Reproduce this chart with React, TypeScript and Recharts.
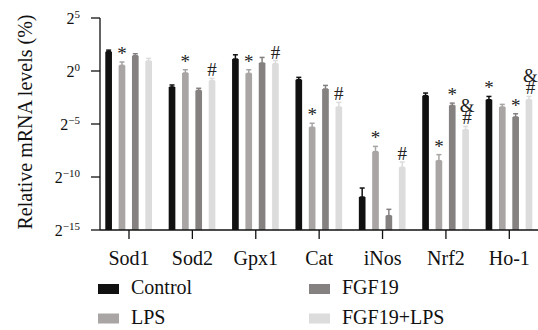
import { BarChart, Bar, XAxis, YAxis, ErrorBar, LabelList, Legend, Label } from 'recharts'

// values are log2 of relative mRNA level (axis is 2^n)
const categories = ['Sod1', 'Sod2', 'Gpx1', 'Cat', 'iNos', 'Nrf2', 'Ho-1']
const control = [1.82, -1.51, 1.13, -0.82, -11.89, -2.33, -2.71]
const controlErr = [0.15, 0.19, 0.4, 0.22, 0.85, 0.25, 0.31]
const lps = [0.53, -0.19, -0.23, -5.31, -7.61, -8.46, -3.4]
const lpsErr = [0.32, 0.31, 0.35, 0.38, 0.5, 0.57, 0.25]
const fgf19 = [1.44, -1.83, 0.75, -1.7, -13.65, -3.25, -4.34]
const fgf19Err = [0.19, 0.2, 0.53, 0.34, 0.6, 0.22, 0.31]
const fgf19Lps = [0.94, -0.92, 0.69, -3.4, -9.09, -5.54, -2.71]
const fgf19LpsErr = [0.25, 0.22, 0.3, 0.44, 0.5, 0.31, 0.31]

// significance marks, lines listed top to bottom
const controlMarks = ['', '', '', '', '', '', '*']
const lpsMarks = ['*', '*', '*', '*', '*', '*', '']
const fgf19Marks = ['', '', '', '', '', '*', '*']
const fgf19LpsMarks = ['', '#', '#', '#', '#', '&|#', '&|#']

const yTicks = [-15, -10, -5, 0, 5]
const FLOOR = -15
const FONT = '"Liberation Serif", "Times New Roman", serif'
const serif = { fontFamily: FONT }

const series = [
  { key: 'control', name: 'Control', color: '#111111', values: control, errs: controlErr, marks: controlMarks },
  { key: 'lps', name: 'LPS', color: '#a8a5a4', values: lps, errs: lpsErr, marks: lpsMarks },
  { key: 'fgf19', name: 'FGF19', color: '#858180', values: fgf19, errs: fgf19Err, marks: fgf19Marks },
  { key: 'fgf19Lps', name: 'FGF19+LPS', color: '#dcdcdc', values: fgf19Lps, errs: fgf19LpsErr, marks: fgf19LpsMarks },
]

const data = categories.map((name, i) => {
  const row: any = { name }
  series.forEach((s) => {
    row[s.key] = [FLOOR, s.values[i]]
    row[s.key + 'Err'] = [0, s.errs[i]]
  })
  return row
})

function PowerTick(props: any) {
  const { x, y, payload } = props
  const exp = String(payload.value).replace('-', '\u2212')
  return (
    <text x={x} y={y + 5.5} textAnchor="end" fontFamily={FONT} style={serif} fontSize={16} fill="#111">
      <tspan>2</tspan>
      <tspan fontSize={11} dy={-6}>{exp}</tspan>
    </text>
  )
}

function makeMarks(s: any) {
  return (props: any) => {
    const { x, y, width, height, value } = props
    const i = categories.indexOf(value)
    if (i < 0 || !s.marks[i]) return null
    const units = s.values[i] - FLOOR
    const k = height / units
    const capY = y - s.errs[i] * k
    const lines = s.marks[i].split('|')
    return (
      <g>
        {lines.map((t: string, j: number) => (
          <text
            key={j}
            x={x + width / 2 + (lines.length > 1 ? 1.5 : 0)}
            y={capY - 2 - (lines.length - 1 - j) * 12}
            textAnchor="middle"
            fontFamily={FONT}
            style={serif}
            fontSize={19}
            fill="#222"
          >
            {t}
          </text>
        ))}
      </g>
    )
  }
}

function LegendBox() {
  return (
    <svg width={538} height={330}>
      {series.map((s, i) => {
        const col = Math.floor(i / 2)
        const row = i % 2
        const sx = col === 0 ? 98 : 309
        const sy = row === 0 ? 284 : 313.5
        return (
          <g key={s.key}>
            <rect x={sx} y={sy} width={21} height={10} fill={s.color} />
            <text x={sx + 33} y={sy + 10} fontFamily={FONT} style={serif} fontSize={20} fill="#111">
              {s.name}
            </text>
          </g>
        )
      })}
    </svg>
  )
}

export default function App() {
  return (
    <div style={{ position: 'absolute', left: 0, top: 0, width: 538, height: 330, overflow: 'hidden', background: '#fff', fontFamily: FONT }}>
      <BarChart
        width={541}
        height={330}
        data={data}
        margin={{ top: 18, right: 0, bottom: 60, left: 0 }}
        barSize={6.67}
        barGap={6.67}
      >
        <XAxis
          dataKey="name"
          height={40}
          padding={{ left: -2.7, right: 0 }}
          tickSize={9}
          tickMargin={12}
          axisLine={{ stroke: '#111', strokeWidth: 1.3 }}
          tickLine={{ stroke: '#111', strokeWidth: 1.3 }}
          tick={{ fill: '#111', fontSize: 20, fontFamily: FONT }}
        />
        <YAxis
          type="number"
          width={100}
          domain={[FLOOR, 5]}
          ticks={yTicks}
          allowDataOverflow
          tickSize={9}
          tickMargin={11}
          axisLine={{ stroke: '#111', strokeWidth: 1.3 }}
          tickLine={{ stroke: '#111', strokeWidth: 1.3 }}
          tick={<PowerTick />}
        >
          <Label
            content={() => (
              <text
                x={25}
                y={122}
                transform="rotate(-90, 25, 122)"
                textAnchor="middle"
                dominantBaseline="central"
                fontFamily={FONT}
                style={serif}
                fontSize={20}
                fill="#111"
              >
                Relative mRNA levels (%)
              </text>
            )}
          />
        </YAxis>
        <Legend
          layout="horizontal"
          verticalAlign="middle"
          align="center"
          wrapperStyle={{ top: 0, left: 0, width: 538, height: 330, pointerEvents: 'none' }}
          content={() => <LegendBox />}
        />
        {series.map((s) => (
          <Bar key={s.key} dataKey={s.key} name={s.name} fill={s.color} isAnimationActive={false}>
            <ErrorBar dataKey={s.key + 'Err'} width={2.5} strokeWidth={1.5} stroke={s.color} direction="y" />
            <LabelList dataKey="name" content={makeMarks(s)} />
          </Bar>
        ))}
      </BarChart>
    </div>
  )
}
